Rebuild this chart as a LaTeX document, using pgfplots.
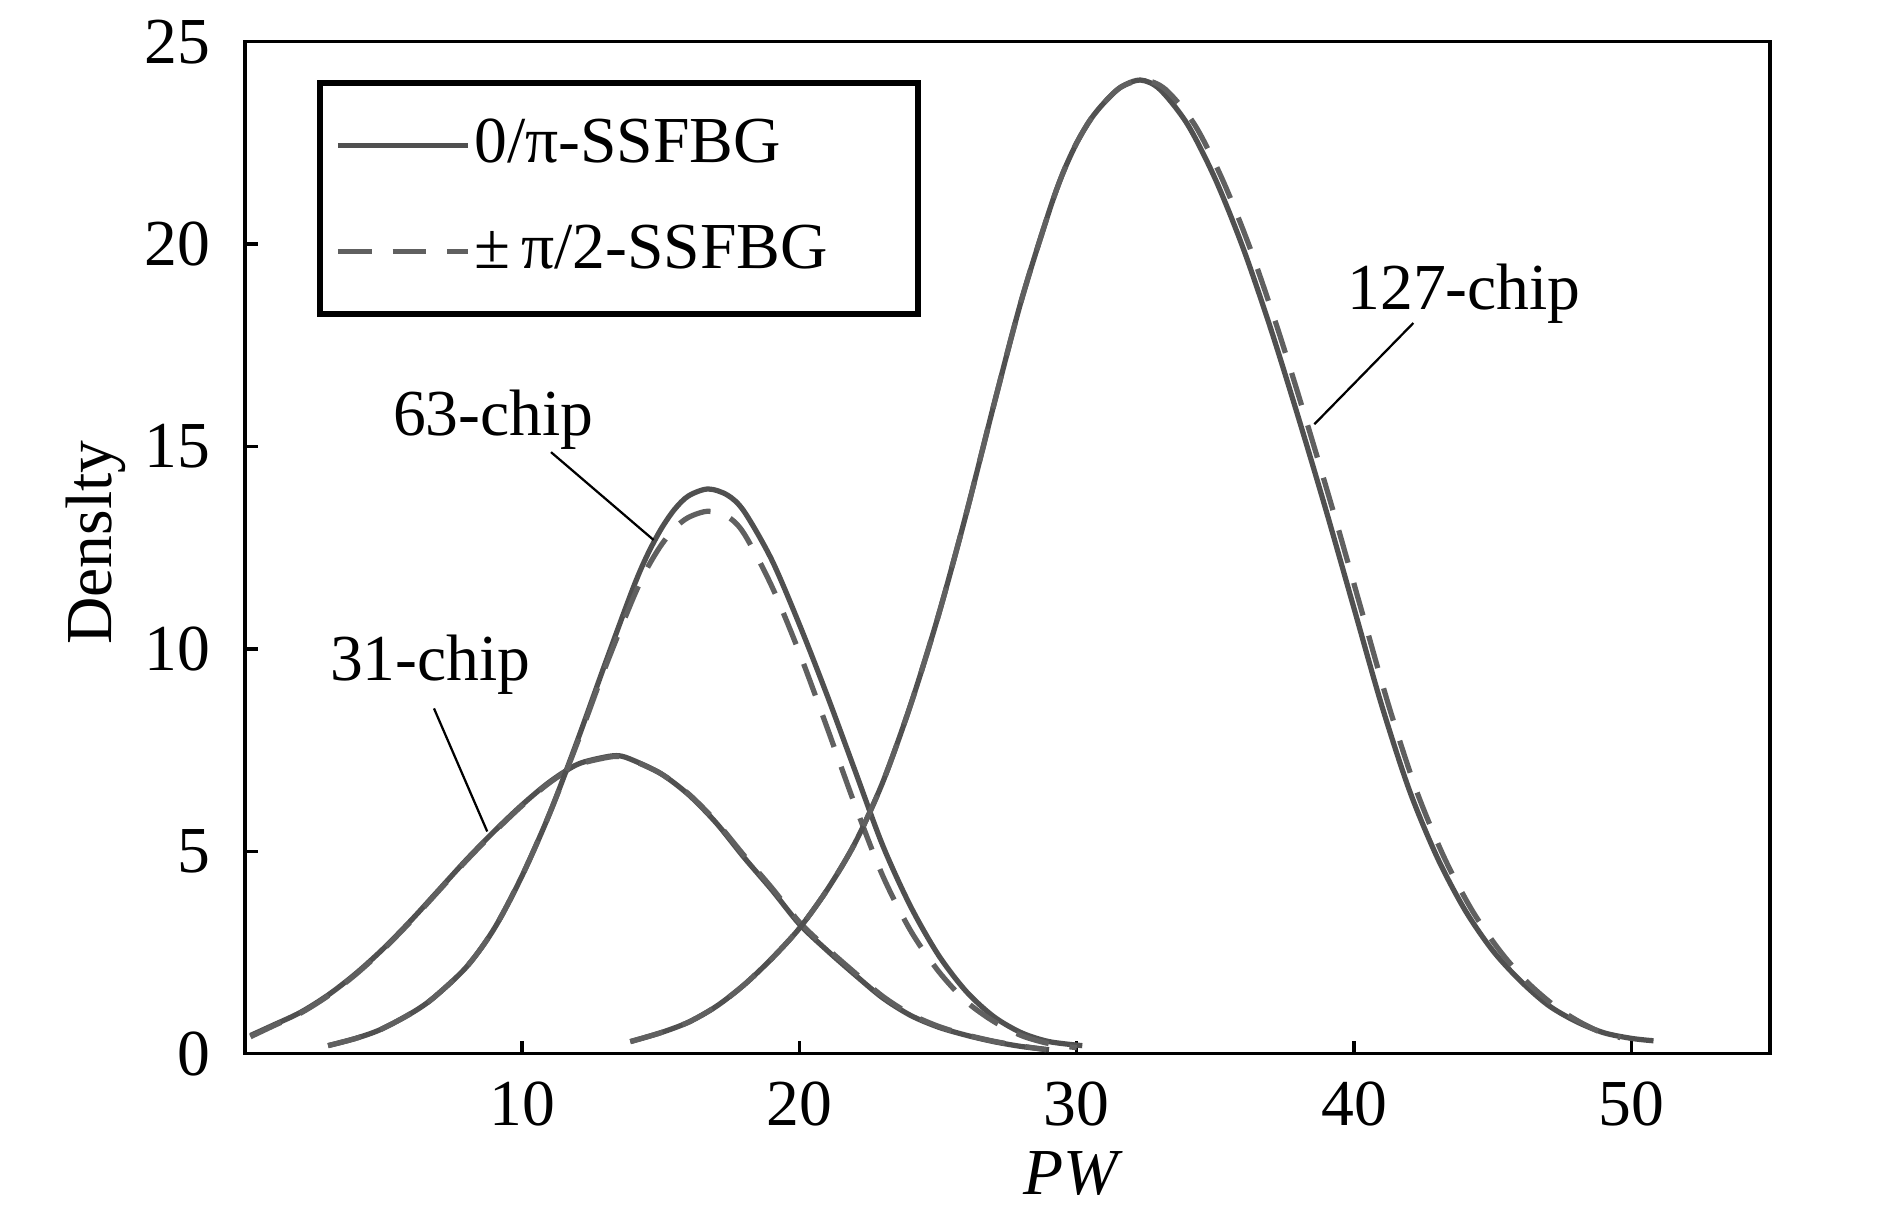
\documentclass[border=0pt]{standalone}
\usepackage{fontspec}
\setmainfont{Liberation Serif}
\usepackage{pgfplots}
\pgfplotsset{compat=1.18}
\definecolor{cg}{RGB}{80,80,80}
\definecolor{cd}{RGB}{96,96,96}
\begin{document}
\fontsize{17.5}{21}\selectfont
\begin{tikzpicture}
\begin{axis}[
  at={(0,0)}, anchor=south west,
  scale only axis, width=406.7pt, height=269.9pt,
  xmin=0, xmax=55, ymin=0, ymax=25,
  xtick={10,20,...,50}, ytick={0,5,...,25},
  tick align=inside, tick pos=left, major tick length=3.5pt,
  axis line style={line width=0.9pt, black},
  tick style={line width=0.9pt, black},
  /pgf/number format/assume math mode=true,
  xticklabel style={yshift=-1.4pt},
  yticklabel style={xshift=-3.2pt},
  xlabel={\textit{PW}}, ylabel={Denslty},
  xlabel style={at={(axis description cs:0.543,-0.118)}, anchor=center},
  ylabel style={at={(axis description cs:-0.0976,0.505)}, anchor=center},
  legend style={at={(axis cs:2.6,24.05)}, anchor=north west, draw=black,
    line width=1.7pt, fill=white, inner xsep=4pt, inner ysep=8.5pt,
    row sep=12pt, nodes={inner sep=1pt}, cells={anchor=west}},
  legend image code/.code={\draw[#1] (0pt,0pt) -- (34.7pt,0pt);},
  every axis plot/.append style={smooth, tension=0.5},
]
% 31-chip, 0/pi-SSFBG
\addplot[cg, line width=1.4pt] table {
x y
0.2 0.45
1 0.7
2 1.02
3 1.45
4 1.98
5 2.6
6 3.3
7 4.05
8 4.8
9 5.5
10 6.15
11 6.72
12 7.15
13 7.33
13.5 7.36
14 7.25
15 6.92
16 6.4
17 5.7
18 4.85
19 4.05
20 3.2
21 2.55
22 1.95
23 1.38
24 0.95
25 0.66
26 0.46
27 0.3
28 0.18
29 0.1
};
\addlegendentry{0/π-SSFBG}
% 31-chip, +-pi/2-SSFBG
\addplot[cd, line width=1.4pt, dash pattern=on 9pt off 5.6pt] table {
x y
0.2 0.42
1 0.68
2 1.0
3 1.43
4 1.96
5 2.58
6 3.28
7 4.03
8 4.78
9 5.48
10 6.13
11 6.7
12 7.13
13 7.31
13.5 7.34
14 7.24
15 6.92
16 6.42
17 5.73
18 4.9
19 4.1
20 3.25
21 2.6
22 2.0
23 1.42
24 0.98
25 0.68
26 0.47
27 0.31
28 0.19
28.9 0.1
};
\addlegendentry{±\,π/2-SSFBG\kern19pt}
% 63-chip solid
\addplot[cg, line width=1.4pt, forget plot] table {
x y
3.0 0.2
4 0.38
4.9 0.6
6 1.0
6.8 1.38
8 2.15
9 3.1
10 4.4
11 5.95
12 7.75
13 9.65
14 11.5
14.5 12.3
15 12.95
15.5 13.45
16 13.78
16.7 13.95
17.4 13.8
18 13.4
19 12.2
20 10.6
21 8.85
22 7.0
23 5.15
24 3.65
25 2.45
26 1.55
27 0.92
28 0.52
29 0.3
30.2 0.2
};
% 63-chip dashed
\addplot[cd, line width=1.4pt, dash pattern=on 9pt off 5.6pt, forget plot] table {
x y
3.0 0.2
4 0.38
4.9 0.6
6 1.0
6.8 1.38
8 2.15
9 3.1
10 4.4
11 5.95
12 7.7
13 9.55
14 11.25
14.5 11.98
15 12.55
15.5 12.98
16 13.25
16.7 13.4
17.4 13.27
18 12.85
19 11.55
20 9.9
21 8.05
22 6.15
23 4.4
24 3.05
25 2.05
26 1.3
27 0.8
28 0.45
29 0.25
30 0.15
};
% 127-chip solid
\addplot[cg, line width=1.4pt, forget plot] table {
x y
13.9 0.3
15 0.52
16 0.78
17 1.17
18 1.7
19 2.35
20 3.1
21 4.05
22 5.2
23 6.7
24 8.6
25 10.8
26 13.3
27 16.0
28 18.6
29 20.8
29.5 21.75
30 22.5
30.5 23.08
31 23.5
31.6 23.88
32.3 24.05
33 23.82
34 22.95
35 21.6
36 19.9
37 17.9
38 15.7
39 13.4
40 11.0
41 8.6
42 6.5
43 4.85
44 3.55
45 2.55
46 1.8
47 1.2
48 0.8
49 0.52
50 0.38
50.8 0.32
};
% 127-chip dashed
\addplot[cd, line width=1.4pt, dash pattern=on 9pt off 5.6pt, forget plot] table {
x y
13.9 0.3
15 0.52
16 0.78
17 1.17
18 1.7
19 2.35
20 3.1
21 4.05
22 5.2
23 6.7
24 8.6
25 10.8
26 13.3
27 16.0
28 18.6
29 20.8
29.5 21.75
30 22.5
30.5 23.08
31 23.5
31.6 23.88
32.4 24.05
33.2 23.82
34.25 22.95
35.25 21.6
36.25 19.9
37.25 17.9
38.25 15.7
39.25 13.4
40.25 11.0
41.25 8.6
42.25 6.5
43.25 4.85
44.25 3.55
45.25 2.55
46.2 1.8
47.2 1.2
48.1 0.8
49.0 0.5
49.6 0.4
};
% annotations
\node at (axis cs:8.96,15.66) {63-chip};
\draw[black, line width=0.6pt] (axis cs:11.04,14.86) -- (axis cs:14.74,12.69);
\node at (axis cs:6.69,9.6) {31-chip};
\draw[black, line width=0.6pt] (axis cs:6.82,8.53) -- (axis cs:8.74,5.49);
\node at (axis cs:43.97,18.77) {127-chip};
\draw[black, line width=0.6pt] (axis cs:42.14,18.05) -- (axis cs:38.57,15.55);
\end{axis}
\pgfresetboundingbox
\useasboundingbox (-65.3pt,-40.2pt) rectangle (438.7pt,281.0pt);
\end{tikzpicture}
\end{document}
